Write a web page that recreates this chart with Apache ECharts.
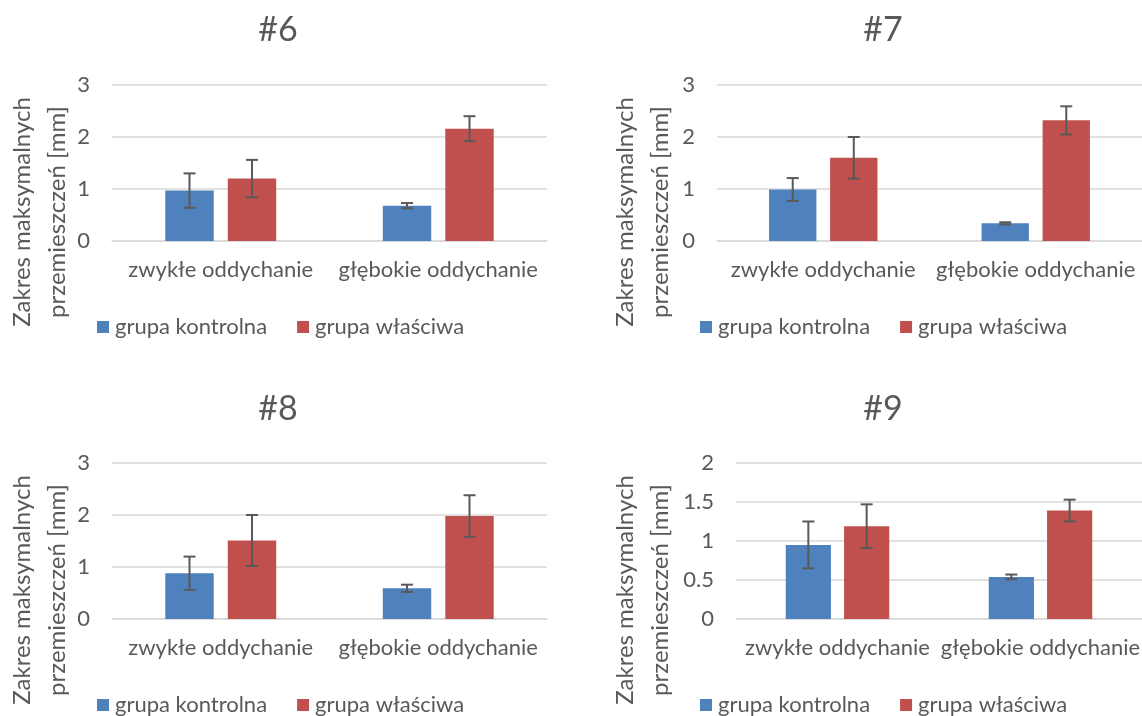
<!DOCTYPE html>
<html>
<head>
<meta charset="utf-8">
<script src="https://cdn.jsdelivr.net/npm/echarts@6/dist/echarts.min.js"></script>
<style>
html,body{margin:0;padding:0;background:#fff;}
#chart{width:1142px;height:716px;}
</style>
</head>
<body>
<div id="chart"></div>
<script>
// ---- data ----
const categories = ['zwykłe oddychanie', 'głębokie oddychanie'];
const chartTitles = ['#6', '#7', '#8', '#9'];
const seriesNames = ['grupa kontrolna', 'grupa właściwa'];
const yAxisTitle = 'Zakres maksymalnych\nprzemieszczeń [mm]';

// mean values per chart (#6, #7, #8, #9), per category
const kontrolnaMean = [[0.97, 0.68], [0.99, 0.34], [0.88, 0.59], [0.95, 0.54]];
const kontrolnaErr  = [[0.33, 0.05], [0.22, 0.02], [0.32, 0.07], [0.30, 0.03]];
const wlasciwaMean  = [[1.20, 2.16], [1.60, 2.32], [1.51, 1.98], [1.19, 1.39]];
const wlasciwaErr   = [[0.36, 0.24], [0.40, 0.27], [0.49, 0.40], [0.28, 0.14]];

// y axis scales per chart
const yMax      = [3, 3, 3, 2];
const yInterval = [1, 1, 1, 0.5];

// ---- layout / style ----
const FONT = 'Lato';
const TXT = '#595959';
const COLORS = ['#4f81bd', '#c0504d'];
const grids = [
  {left: 112, top: 85,  width: 435, height: 156},
  {left: 717, top: 85,  width: 436, height: 156},
  {left: 112, top: 463, width: 435, height: 156},
  {left: 736, top: 463, width: 416, height: 156}
];
const titlePos = [[273, 8], [878, 8], [273, 387], [878, 387]];
const legendPos = [[92, 311], [695, 311], [92, 689], [695, 689]];
const yTitlePos = [[40, 212], [643, 212], [40, 590], [643, 590]];

const CAT_GAP = 0.49, BAR_GAP = 0.29;

function errRender(seriesIdx) {
  return function (params, api) {
    const cat = api.value(0), mean = api.value(1), err = api.value(2);
    const band = api.size([1, 0])[0];
    const bw = band * (1 - CAT_GAP) / (2 + BAR_GAP);
    const total = 2 * bw + BAR_GAP * bw;
    const center = api.coord([cat, 0])[0];
    const x = center - total / 2 + bw / 2 + seriesIdx * bw * (1 + BAR_GAP);
    const yt = api.coord([cat, mean + err])[1];
    const yb = api.coord([cat, mean - err])[1];
    const cap = 6;
    const st = {stroke: '#595959', lineWidth: 2};
    return {
      type: 'group',
      children: [
        {type: 'line', shape: {x1: x, y1: yt, x2: x, y2: yb}, style: st},
        {type: 'line', shape: {x1: x - cap, y1: yt, x2: x + cap, y2: yt}, style: st},
        {type: 'line', shape: {x1: x - cap, y1: yb, x2: x + cap, y2: yb}, style: st}
      ]
    };
  };
}

const option = {
  animation: false,
  backgroundColor: '#ffffff',
  textStyle: {fontFamily: FONT, color: TXT},
  title: chartTitles.map((t, i) => ({
    text: t, left: titlePos[i][0], top: titlePos[i][1], textAlign: 'center',
    textStyle: {fontFamily: FONT, fontSize: 34, fontWeight: 'normal', color: TXT}
  })),
  legend: chartTitles.map((t, i) => ({
    data: seriesNames, left: legendPos[i][0], top: legendPos[i][1],
    icon: 'rect', itemWidth: 12, itemHeight: 12, itemGap: 30,
    textStyle: {fontFamily: FONT, fontSize: 22, color: TXT, padding: [0, 0, 0, 1]},
    selectedMode: false
  })),
  grid: grids,
  xAxis: grids.map((g, i) => ({
    type: 'category', gridIndex: i, data: categories,
    axisLine: {show: true, lineStyle: {color: '#d9d9d9', width: 1.5}},
    axisTick: {show: false},
    axisLabel: {interval: 0, fontFamily: FONT, fontSize: 22, color: TXT, margin: 18}
  })),
  yAxis: grids.map((g, i) => ({
    type: 'value', gridIndex: i, min: 0, max: yMax[i], interval: yInterval[i],
    axisLine: {show: false}, axisTick: {show: false},
    splitLine: {lineStyle: {color: '#d9d9d9', width: 1.5}},
    axisLabel: {fontFamily: FONT, fontSize: 22, color: TXT, margin: 22}
  })),
  graphic: yTitlePos.map(p => ({
    type: 'text', x: p[0], y: p[1], rotation: Math.PI / 2,
    style: {text: yAxisTitle, fontFamily: FONT, fontSize: 24, lineHeight: 35,
      fill: TXT, align: 'center', verticalAlign: 'middle'}
  })),
  series: []
};

for (let i = 0; i < 4; i++) {
  const means = [kontrolnaMean[i], wlasciwaMean[i]];
  const errs = [kontrolnaErr[i], wlasciwaErr[i]];
  for (let s = 0; s < 2; s++) {
    option.series.push({
      type: 'bar', name: seriesNames[s], xAxisIndex: i, yAxisIndex: i,
      data: means[s], itemStyle: {color: COLORS[s]},
      barCategoryGap: (CAT_GAP * 100) + '%', barGap: (BAR_GAP * 100) + '%'
    });
  }
  for (let s = 0; s < 2; s++) {
    option.series.push({
      type: 'custom', xAxisIndex: i, yAxisIndex: i, z: 10,
      renderItem: errRender(s),
      data: means[s].map((m, c) => [c, m, errs[s][c]])
    });
  }
}

const chart = echarts.init(document.getElementById('chart'), null, {renderer: 'canvas'});
chart.setOption(option);
</script>
</body>
</html>
